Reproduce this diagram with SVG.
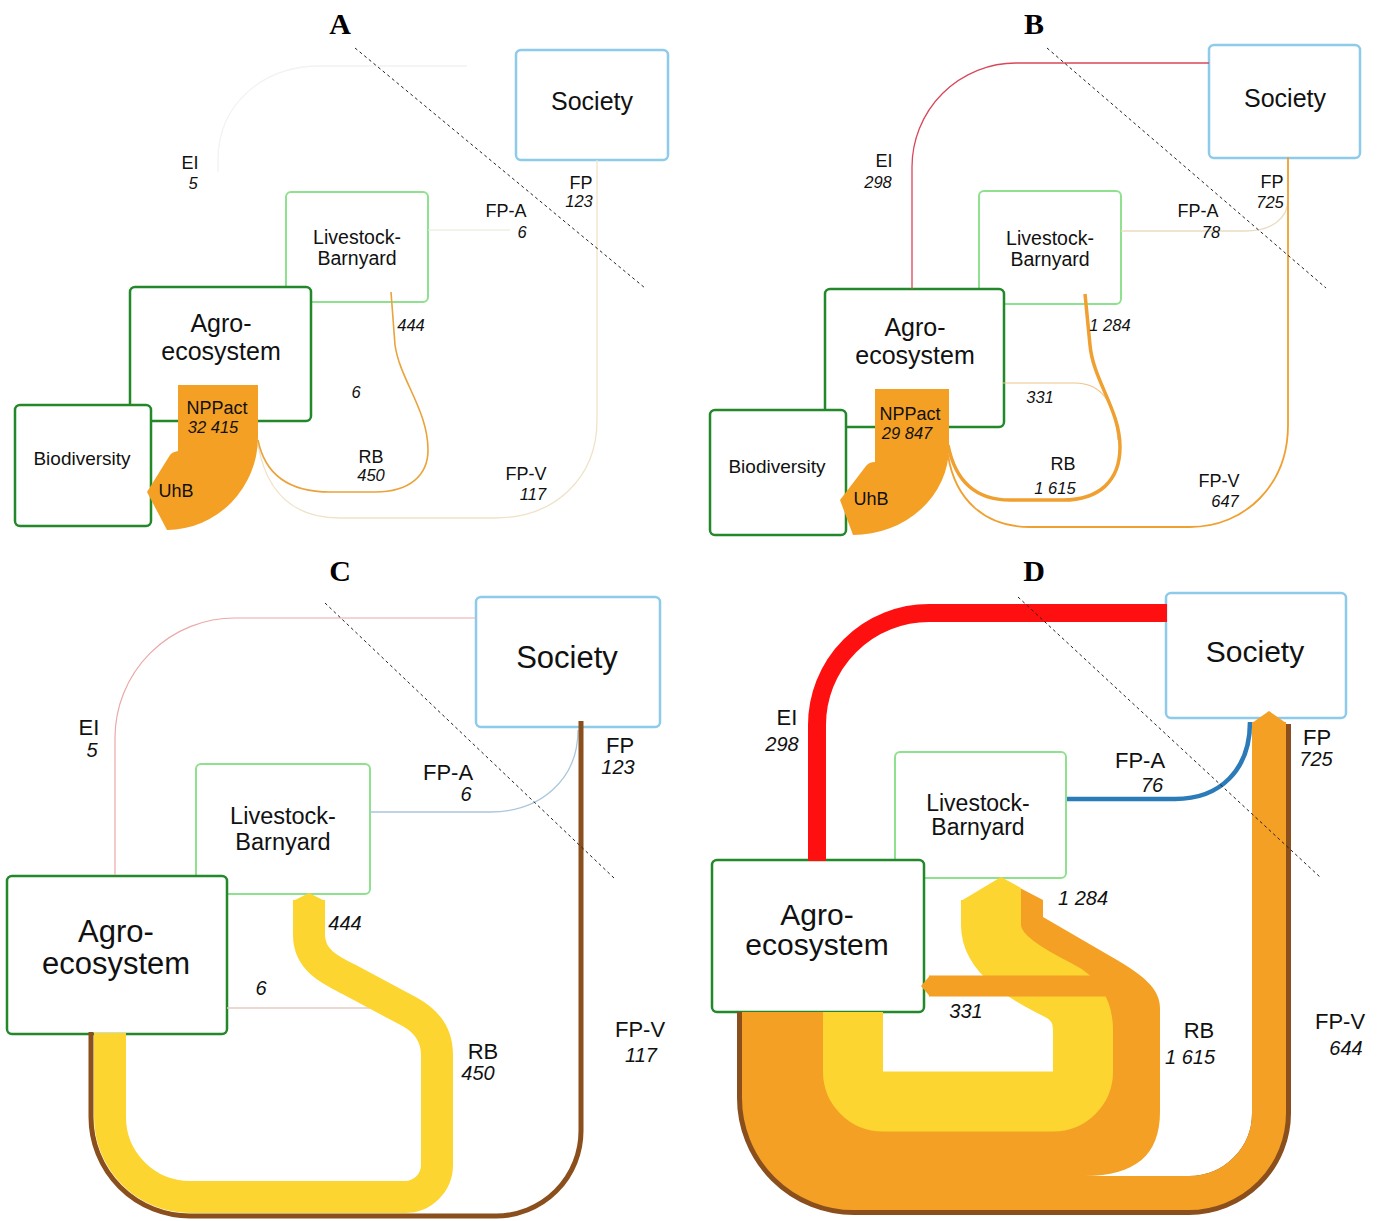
<svg xmlns="http://www.w3.org/2000/svg" width="1379" height="1221" viewBox="0 0 1379 1221">
<style>
.t{font-family:"Liberation Sans",Arial,sans-serif;fill:#111;text-anchor:middle}
.n{font-style:italic}
.title{font-family:"Liberation Serif","Times New Roman",serif;font-weight:bold;font-size:30px;text-anchor:middle;fill:#000}
.box{fill:#fff}
.agro{stroke:#22882A;stroke-width:2.5}
.ls{stroke:#8FE08F;stroke-width:2}
.soc{stroke:#8ECBEB;stroke-width:2.5}
.dash{stroke:#222;stroke-width:1;stroke-dasharray:3,3;fill:none}
.ln{fill:none}
.or{fill:#F4A025}
.ye{fill:#FDD531}
.s1{font-size:25px}
.s2{font-size:19.5px}
.s3{font-size:18px}
.s4{font-size:16.5px}
.c1{font-size:31px}
.c2{font-size:23.5px}
.c3{font-size:22px}
.c4{font-size:20px}
</style>
<rect width="1379" height="1221" fill="#fff"/>

<!-- ================= PANEL A ================= -->
<g id="panel-A">
<text class="title" x="340" y="34">A</text>
<g id="A-livestock"><rect class="box ls" x="286" y="192" width="142" height="110" rx="5"/>
<text class="t s2" x="357" y="244">Livestock-</text><text class="t s2" x="357" y="265">Barnyard</text></g>
<g id="A-agro"><rect class="box agro" x="130" y="287" width="181" height="134" rx="5"/>
<text class="t s1" x="221" y="332">Agro-</text><text class="t s1" x="221" y="360">ecosystem</text></g>
<g id="A-biodiversity"><rect class="box agro" x="15" y="405" width="136" height="121" rx="5"/>
<text class="t" style="font-size:19px" x="82" y="465">Biodiversity</text></g>
<g id="A-society"><rect class="box soc" x="516" y="50" width="152" height="110" rx="5"/>
<text class="t s1" x="592" y="110">Society</text></g>
<g id="A-connectors">
<path class="ln" d="M218,172 L218,160 C218,105 262,66 320,66 L467,66" stroke="#F2F2F2" stroke-width="1.3"/>
<path class="ln" d="M428,230 L510,230" stroke="#ECE5D6" stroke-width="1.2"/>
<path class="ln" d="M597,160 L597,420 C597,478 555,518 495,518 L340,518 C300,518 268,500 258,445" stroke="#F0E2C8" stroke-width="1.3"/>
<path class="ln" d="M258,440 C265,475 290,492 330,492 L375,492 C410,492 428,475 428,450 C428,410 400,380 395,345 L391,292" stroke="#E9A33A" stroke-width="1.6"/>
</g>
<g id="A-nppact"><path class="or" d="M178,385 L258,385 L258,437 A92,93 0 0 1 167,530 L147,492 L170,455 Q172,452 178,451 Z"/>
<text class="t s3" x="217" y="414">NPPact</text><text class="t n s4" x="213" y="433">32 415</text>
<text class="t s3" x="176" y="497">UhB</text></g>
<g id="A-labels">
<text class="t s3" x="190" y="169">EI</text><text class="t n s4" x="193" y="189">5</text>
<text class="t s3" x="506" y="217">FP-A</text><text class="t n s4" x="522" y="238">6</text>
<text class="t s3" x="581" y="189">FP</text><text class="t n s4" x="579" y="207">123</text>
<text class="t n s4" x="411" y="331">444</text>
<text class="t n s4" x="356" y="398">6</text>
<text class="t s3" x="371" y="463">RB</text><text class="t n s4" x="371" y="481">450</text>
<text class="t s3" x="526" y="480">FP-V</text><text class="t n s4" x="533" y="500">117</text>
</g>
<line class="dash" x1="355" y1="48" x2="645" y2="288"/>
</g>

<!-- ================= PANEL B ================= -->
<g id="panel-B">
<text class="title" x="1034" y="34">B</text>
<g id="B-livestock"><rect class="box ls" x="979" y="191" width="142" height="113" rx="5"/>
<text class="t s2" x="1050" y="245">Livestock-</text><text class="t s2" x="1050" y="266">Barnyard</text></g>
<g id="B-agro"><rect class="box agro" x="825" y="289" width="179" height="138" rx="5"/>
<text class="t s1" x="915" y="336">Agro-</text><text class="t s1" x="915" y="364">ecosystem</text></g>
<g id="B-biodiversity"><rect class="box agro" x="710" y="410" width="136" height="125" rx="5"/>
<text class="t" style="font-size:19px" x="777" y="473">Biodiversity</text></g>
<g id="B-society"><rect class="box soc" x="1209" y="45" width="151" height="113" rx="5"/>
<text class="t s1" x="1285" y="107">Society</text></g>
<g id="B-connectors">
<path class="ln" d="M912,289 L912,167 A104,104 0 0 1 1016,63 L1209,63" stroke="#D8485A" stroke-width="1.3"/>
<path class="ln" d="M1121,231 L1245,231 C1272,231 1288,218 1288,200" stroke="#E9DCC2" stroke-width="1.3"/>
<path class="ln" d="M1288,157 L1288,425 C1288,485 1245,527 1190,527 L1030,527 C985,527 955,500 948,455" stroke="#F0A030" stroke-width="1.8"/>
<path class="ln" d="M1003,383 L1075,383 C1100,383 1115,400 1118,440" stroke="#F0C48A" stroke-width="1.2"/>
<path class="ln" d="M948,445 C955,480 975,500 1010,500 L1063,500 C1100,500 1120,480 1120,447 C1120,410 1093,380 1090,345 L1085,294" stroke="#F0A030" stroke-width="3.5"/>
</g>
<g id="B-nppact"><path class="or" d="M875,389 L949,389 L949,447 A96,88 0 0 1 853,535 L840,500 L866,466 Q869,462 875,462 Z"/>
<text class="t s3" x="910" y="420">NPPact</text><text class="t n s4" x="907" y="439">29 847</text>
<text class="t s3" x="871" y="505">UhB</text></g>
<g id="B-labels">
<text class="t s3" x="884" y="167">EI</text><text class="t n s4" x="878" y="188">298</text>
<text class="t s3" x="1198" y="217">FP-A</text><text class="t n s4" x="1211" y="238">78</text>
<text class="t s3" x="1272" y="188">FP</text><text class="t n s4" x="1270" y="208">725</text>
<text class="t n s4" x="1110" y="331">1 284</text>
<text class="t n s4" x="1040" y="403">331</text>
<text class="t s3" x="1063" y="470">RB</text><text class="t n s4" x="1055" y="494">1 615</text>
<text class="t s3" x="1219" y="487">FP-V</text><text class="t n s4" x="1225" y="507">647</text>
</g>
<line class="dash" x1="1047" y1="48" x2="1326" y2="288"/>
</g>

<!-- ================= PANEL C ================= -->
<g id="panel-C">
<text class="title" x="340" y="581">C</text>
<g id="C-livestock"><rect class="box ls" x="196" y="764" width="174" height="130" rx="5"/>
<text class="t c2" x="283" y="824">Livestock-</text><text class="t c2" x="283" y="850">Barnyard</text></g>
<g id="C-agro"><rect class="box agro" x="7" y="876" width="220" height="158" rx="5"/>
<text class="t c1" x="116" y="942">Agro-</text><text class="t c1" x="116" y="974">ecosystem</text></g>
<g id="C-society"><rect class="box soc" x="476" y="597" width="184" height="130" rx="5"/>
<text class="t c1" x="567" y="668">Society</text></g>
<g id="C-connectors">
<path class="ln" d="M115,875 L115,738 A120,120 0 0 1 235,618 L476,618" stroke="#EBA8A8" stroke-width="1.2"/>
<path class="ln" d="M370,812 L490,812 C540,812 578,780 578,730" stroke="#A9C6DC" stroke-width="1.3"/>
<path class="ln" d="M227,1008 L400,1008 C425,1008 440,1020 447,1035" stroke="#E3CDBE" stroke-width="1.5"/>
<path class="ln" d="M581,721 L581,1131 A85,85 0 0 1 496,1216 L190,1216 A99,99 0 0 1 91,1117 L91,1032" stroke="#8A4F1C" stroke-width="5"/>
<path class="ln" d="M309,900 L309,935 C309,960 330,970 350,980 L410,1012 Q437,1027 437,1055 L437,1165 A32,32 0 0 1 405,1197 L190,1197 A80,80 0 0 1 110,1117 L110,1033" stroke="#FDD531" stroke-width="32"/>
<polygon class="ye" points="293,901 309,893 325,901"/>
</g>
<g id="C-labels">
<text class="t c3" x="89" y="735">EI</text><text class="t n c4" x="92" y="757">5</text>
<text class="t c3" x="448" y="780">FP-A</text><text class="t n c4" x="466" y="801">6</text>
<text class="t c3" x="620" y="753">FP</text><text class="t n c4" x="618" y="774">123</text>
<text class="t n c4" x="345" y="930">444</text>
<text class="t n c4" x="261" y="995">6</text>
<text class="t c3" x="483" y="1059">RB</text><text class="t n c4" x="478" y="1080">450</text>
<text class="t c3" x="640" y="1037">FP-V</text><text class="t n c4" x="641" y="1062">117</text>
</g>
<line class="dash" x1="325" y1="603" x2="614" y2="878"/>
</g>

<!-- ================= PANEL D ================= -->
<g id="panel-D">
<text class="title" x="1034" y="581">D</text>
<g id="D-livestock"><rect class="box ls" x="895" y="752" width="171" height="126" rx="5"/>
<text class="t" style="font-size:23px" x="978" y="811">Livestock-</text><text class="t" style="font-size:23px" x="978" y="835">Barnyard</text></g>
<g id="D-agro"><rect class="box agro" x="712" y="860" width="212" height="152" rx="5"/>
<text class="t" style="font-size:30px" x="817" y="925">Agro-</text><text class="t" style="font-size:30px" x="817" y="955">ecosystem</text></g>
<g id="D-society"><rect class="box soc" x="1166" y="593" width="180" height="125" rx="5"/>
<text class="t" style="font-size:30px" x="1255" y="662">Society</text></g>
<g id="D-connectors">
<path class="ln" d="M817,861 L817,725 A112,112 0 0 1 929,613 L1167,613" stroke="#FF1010" stroke-width="18"/>
<path class="ln" d="M1067,799 L1175,799 C1220,799 1250,770 1250,722" stroke="#2B7BB9" stroke-width="4.5"/>
<path class="ln" d="M1271.5,724 L1271.5,1113 A82.5,82.5 0 0 1 1189,1195.5 L854,1195.5 A97.5,97.5 0 0 1 756.5,1098 L756.5,1012" stroke="#8A4F1C" stroke-width="39"/>
<path class="ln" d="M1269,722 L1269,1113 A80,80 0 0 1 1189,1193 L854,1193 A95,95 0 0 1 759,1098 L759,1012" stroke="#F4A025" stroke-width="34"/>
<polygon class="or" points="1252,723 1269,711 1286,723"/>
<path class="or" d="M773,1012 L773,1098 A81,81 0 0 0 854,1179 L1060,1179 L1085,1176 C1135,1176 1160,1155 1160,1112 L1160,1008 C1160,988 1142,975 1117,960 L1043,917 L1043,900 L1020,888 L1000,900 L993,925 C993,955 1030,975 1060,990 Q1083,1002 1083,1030 L1083,1100 L853,1100 L853,1012 Z"/>
<path class="ln" d="M991,900 L991,925 C991,955 1028,975 1058,990 Q1083,1002 1083,1030 L1083,1071.5 A30,30 0 0 1 1053,1101.5 L883,1101.5 A30,30 0 0 1 853,1071.5 L853,1012" stroke="#FDD531" stroke-width="60"/>
<polygon class="ye" points="961,901 1001,877 1021,888 1021,901"/>
<path class="ln" d="M929,986 L1130,986" stroke="#F4A025" stroke-width="21"/>
<polygon class="or" points="930,975.5 921,986 930,996.5"/>
</g>
<g id="D-labels">
<text class="t c3" x="1140" y="768">FP-A</text><text class="t n c4" x="1152" y="792">76</text>
<text class="t c3" x="787" y="725">EI</text><text class="t n c4" x="782" y="751">298</text>
<text class="t c3" x="1317" y="745">FP</text><text class="t n c4" x="1316" y="766">725</text>
<text class="t n c4" x="1083" y="905">1 284</text>
<text class="t n c4" x="966" y="1018">331</text>
<text class="t c3" x="1199" y="1038">RB</text><text class="t n c4" x="1190" y="1064">1 615</text>
<text class="t c3" x="1340" y="1029">FP-V</text><text class="t n c4" x="1346" y="1055">644</text>
</g>
<line class="dash" x1="1018" y1="597" x2="1320" y2="877"/>
</g>
</svg>
